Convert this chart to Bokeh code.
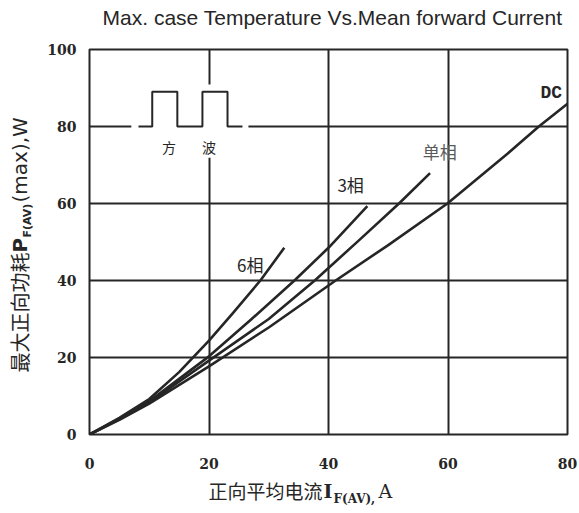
import math
from bokeh.plotting import figure
from bokeh.layouts import column, row
from bokeh.models import Label, FixedTicker, Range1d
from bokeh.embed import file_html
from bokeh.resources import INLINE

# ---- data ----
dc_x = [0, 5, 10, 20, 30, 41.2, 50, 59.9, 70, 75.2, 80]
dc_y = [0, 3.8, 8, 17.7, 27.8, 40, 49.2, 60, 73, 80, 85.9]

single_x = [0, 5, 10, 20, 30, 37.7, 45, 51.8, 57]
single_y = [0, 4, 8.3, 19.2, 30, 40, 50.3, 60, 67.9]

three_x = [0, 5, 10, 20, 27, 34.3, 40, 46.5]
three_y = [0, 4.1, 8.6, 20.3, 29.8, 40, 48.5, 59.3]

six_x = [0, 5, 10, 15, 20, 24, 28.6, 32.6]
six_y = [0, 4.3, 9.2, 16.2, 24.4, 31.5, 40, 48.5]

x_ticks = [0, 20, 40, 60, 80]
y_ticks = [0, 20, 40, 60, 80, 100]

# square-wave inset (schematic)
wave_x = [8.2, 10.5, 10.5, 14.7, 14.7, 18.9, 18.9, 23.1, 23.1, 25.6]
wave_y = [80, 80, 89, 89, 80, 80, 89, 89, 80, 80]

title_text = "Max. case Temperature Vs.Mean forward Current"
xlabel_parts = ["正向平均电流", "I", "F(AV),", "A"]
ylabel_parts = ["最大正向功耗", "P", "F(AV)", "(max),W"]

INK = "#262626"
TOTAL_W, TOTAL_H = 579, 513
TITLE_H = 34
YLAB_W = 40
MID_H = 441
XLAB_H = TOTAL_H - TITLE_H - MID_H
B_TOP, B_BOTTOM = 15, 41
FRAME_H = MID_H - B_TOP - B_BOTTOM


def blank(w, h, top=0, bottom=0):
    f = figure(width=w, height=h, output_backend="svg", toolbar_location=None,
               x_range=Range1d(0, w), y_range=Range1d(0, h - top - bottom),
               x_axis_type=None, y_axis_type=None, min_border=0,
               min_border_top=top, min_border_bottom=bottom)
    f.outline_line_color = None
    f.background_fill_color = "white"
    f.border_fill_color = "white"
    return f


def lab(fig, x, y, text, font, size, style="normal", color=INK, align="center",
        baseline="middle", angle=0):
    fig.add_layout(Label(x=x, y=y, text=text, text_font=font, text_font_size=size,
                         text_font_style=style, text_color=color, text_align=align,
                         text_baseline=baseline, angle=angle))


# ---------- main chart ----------
p = figure(width=TOTAL_W - YLAB_W, height=MID_H, output_backend="svg", toolbar_location=None,
           x_range=Range1d(0, 80), y_range=Range1d(0, 100),
           min_border_left=49, min_border_right=12,
           min_border_top=B_TOP, min_border_bottom=B_BOTTOM)
p.background_fill_color = "white"
p.border_fill_color = "white"
p.outline_line_color = INK
p.outline_line_width = 2

for ax, ticks in ((p.xaxis, x_ticks), (p.yaxis, y_ticks)):
    ax.ticker = FixedTicker(ticks=ticks)
    ax.axis_line_color = None
    ax.major_tick_line_color = None
    ax.minor_tick_line_color = None
    ax.major_tick_out = 0
    ax.major_tick_in = 0
    ax.minor_tick_out = 0
    ax.major_label_text_font = "DejaVu Serif"
    ax.major_label_text_font_style = "bold"
    ax.major_label_text_font_size = "14px"
    ax.major_label_text_color = INK
p.xaxis.major_label_standoff = 23
p.yaxis.major_label_standoff = 13

p.grid.grid_line_color = INK
p.grid.grid_line_width = 2
p.xgrid.ticker = FixedTicker(ticks=x_ticks)
p.ygrid.ticker = FixedTicker(ticks=y_ticks)

# white box behind the inset
p.quad(left=7.0, right=26.6, bottom=71.9, top=90.9, fill_color="white", line_color=None)
p.line(wave_x, wave_y, line_color=INK, line_width=2)

for xs, ys in ((dc_x, dc_y), (single_x, single_y), (three_x, three_y), (six_x, six_y)):
    p.line(xs, ys, line_color=INK, line_width=2.6, line_join="round")

lab(p, 77.3, 88.8, "DC", "Liberation Mono", "18px", "bold")
lab(p, 58.6, 73.5, "单相", "Noto Sans CJK SC", "17px", color="#5a5a5a")
lab(p, 43.7, 64.9, "3相", "Noto Sans CJK SC", "17px")
lab(p, 26.9, 44.2, "6相", "Noto Sans CJK SC", "17px")
lab(p, 13.3, 74.7, "方", "Noto Sans CJK SC", "14px")
lab(p, 20.0, 74.7, "波", "Noto Sans CJK SC", "14px")

# ---------- title ----------
tfig = blank(TOTAL_W, TITLE_H)
lab(tfig, 332, 17, title_text, "Liberation Sans", "21px")

# ---------- y label (rotated, pieces); frame aligned with the chart frame ----------
yfig = blank(YLAB_W, MID_H, B_TOP, B_BOTTOM)
a = math.pi / 2
lab(yfig, 18.5, 62, ylabel_parts[0], "Noto Sans CJK SC", "20px", align="left", angle=a)
lab(yfig, 19, 182, ylabel_parts[1], "DejaVu Sans", "20px", "bold", align="left", angle=a)
lab(yfig, 27, 197, ylabel_parts[2], "DejaVu Sans", "11px", "bold", align="left", angle=a)
lab(yfig, 19, 232, ylabel_parts[3], "DejaVu Sans", "20px", align="left", angle=a)

# ---------- x label (pieces) ----------
xfig = blank(TOTAL_W, XLAB_H)
lab(xfig, 208, 23.5, xlabel_parts[0], "Noto Sans CJK SC", "19px", align="left")
lab(xfig, 323, 23, xlabel_parts[1], "DejaVu Serif", "19px", "bold", align="left")
lab(xfig, 333, 15, xlabel_parts[2], "DejaVu Serif", "12px", "bold", align="left")
lab(xfig, 378, 23, xlabel_parts[3], "DejaVu Serif", "19px", align="left")

layout = column(tfig, row(yfig, p, spacing=0), xfig, spacing=0)
open("out.html", "w").write(file_html(layout, INLINE))
